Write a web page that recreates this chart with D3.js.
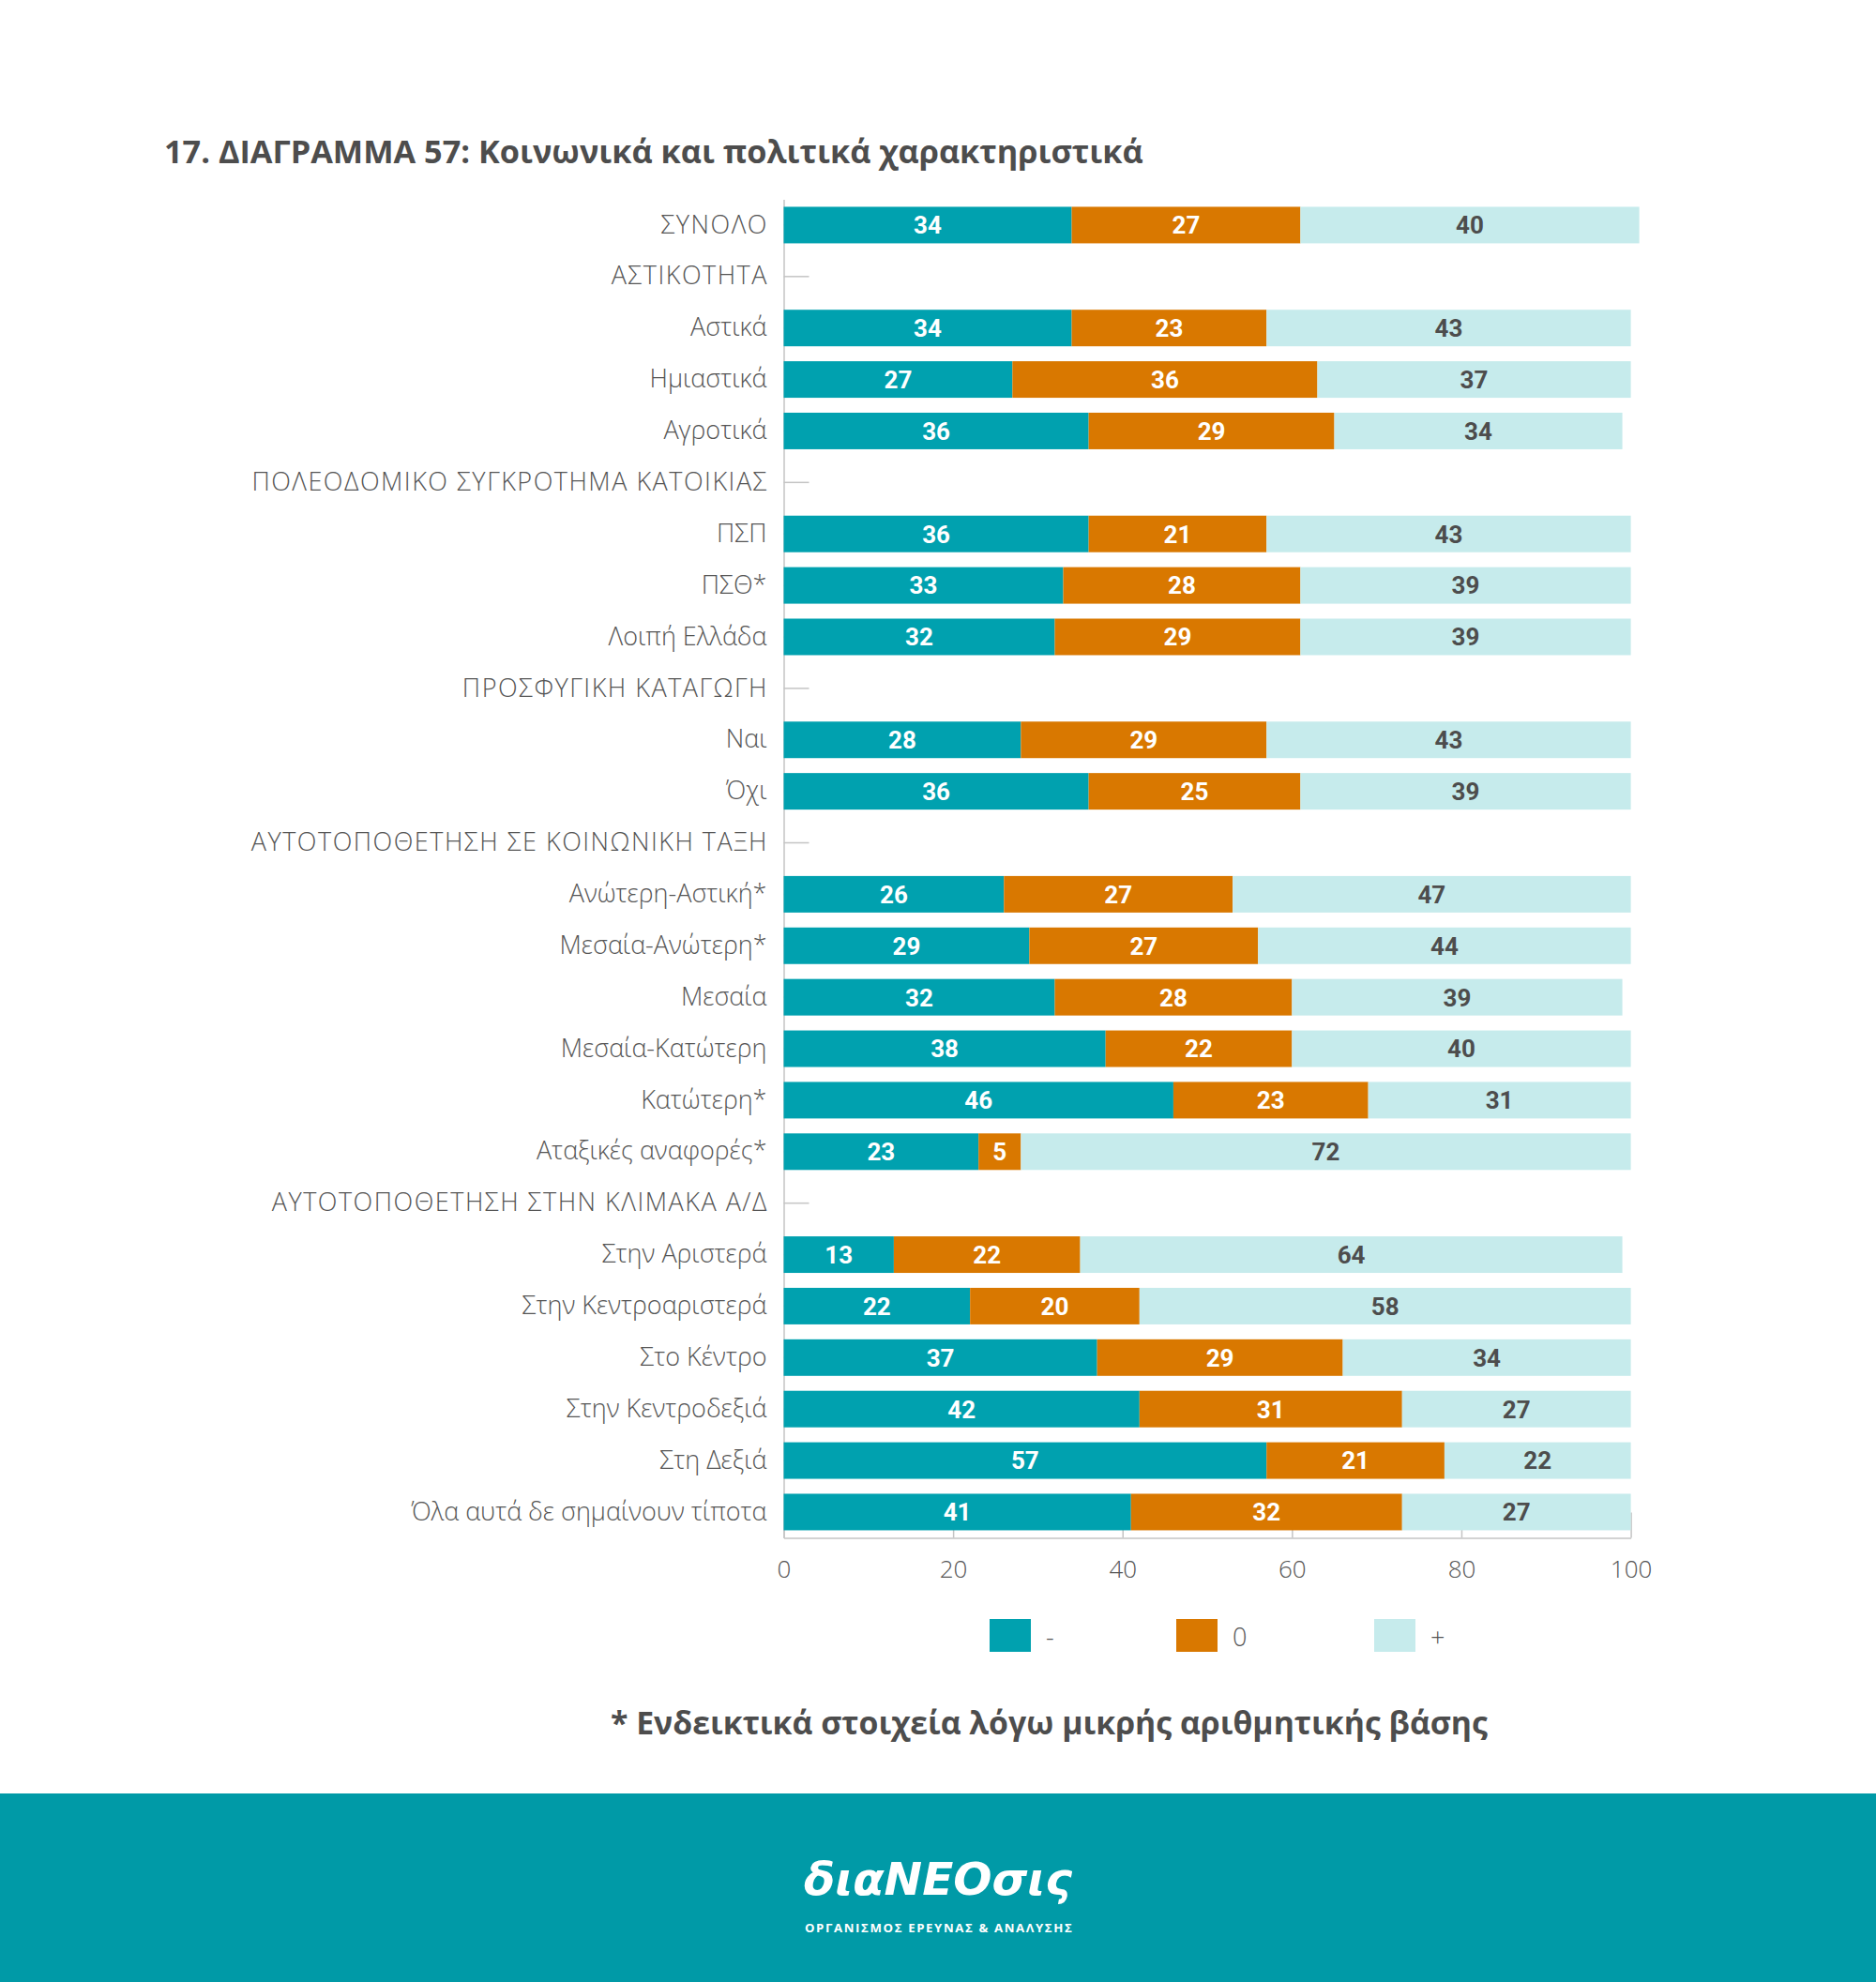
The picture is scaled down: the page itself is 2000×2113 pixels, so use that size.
<!DOCTYPE html>
<html>
<head>
<meta charset="utf-8">
<script src="https://cdn.jsdelivr.net/npm/d3@7"></script>
<style>
  html, body { margin: 0; padding: 0; background: #fff; }
  svg { display: block; }
</style>
</head>
<body>
<svg id="chart" width="2000" height="2113"></svg>
<script>
// ---------- DATA ----------
const categories = [
  "ΣΥΝΟΛΟ",
  "ΑΣΤΙΚΟΤΗΤΑ",
  "Αστικά",
  "Ημιαστικά",
  "Αγροτικά",
  "ΠΟΛΕΟΔΟΜΙΚΟ ΣΥΓΚΡΟΤΗΜΑ ΚΑΤΟΙΚΙΑΣ",
  "ΠΣΠ",
  "ΠΣΘ*",
  "Λοιπή Ελλάδα",
  "ΠΡΟΣΦΥΓΙΚΗ ΚΑΤΑΓΩΓΗ",
  "Ναι",
  "Όχι",
  "ΑΥΤΟΤΟΠΟΘΕΤΗΣΗ ΣΕ ΚΟΙΝΩΝΙΚΗ ΤΑΞΗ",
  "Ανώτερη-Αστική*",
  "Μεσαία-Ανώτερη*",
  "Μεσαία",
  "Μεσαία-Κατώτερη",
  "Κατώτερη*",
  "Αταξικές αναφορές*",
  "ΑΥΤΟΤΟΠΟΘΕΤΗΣΗ ΣΤΗΝ ΚΛΙΜΑΚΑ Α/Δ",
  "Στην Αριστερά",
  "Στην Κεντροαριστερά",
  "Στο Κέντρο",
  "Στην Κεντροδεξιά",
  "Στη Δεξιά",
  "Όλα αυτά δε σημαίνουν τίποτα"
];
// null = section header row (no bar)
const seriesMinus = [34, null, 34, 27, 36, null, 36, 33, 32, null, 28, 36, null, 26, 29, 32, 38, 46, 23, null, 13, 22, 37, 42, 57, 41];
const seriesZero  = [27, null, 23, 36, 29, null, 21, 28, 29, null, 29, 25, null, 27, 27, 28, 22, 23, 5,  null, 22, 20, 29, 31, 21, 32];
const seriesPlus  = [40, null, 43, 37, 34, null, 43, 39, 39, null, 43, 39, null, 47, 44, 39, 40, 31, 72, null, 64, 58, 34, 27, 22, 27];
const seriesKeys  = ["-", "0", "+"];
const xTicks = [0, 20, 40, 60, 80, 100];

const titleText = "17. ΔΙΑΓΡΑΜΜΑ 57: Κοινωνικά και πολιτικά χαρακτηριστικά";
const noteText = "* Ενδεικτικά στοιχεία λόγω μικρής αριθμητικής βάσης";
const logoText = "διαNEOσις";
const logoSub = "ΟΡΓΑΝΙΣΜΟΣ ΕΡΕΥΝΑΣ & ΑΝΑΛΥΣΗΣ";

// ---------- STYLE ----------
const colors = { "-": "#00A1AF", "0": "#D97800", "+": "#C6EBEC" };
const labelColors = { "-": "#ffffff", "0": "#ffffff", "+": "#4d4d4d" };
const textColor = "#555555";
const axisColor = "#c4c4c4";
const sansFont = "'Open Sans', 'Noto Sans', 'DejaVu Sans', sans-serif";
const numFont = "Roboto, 'Noto Sans', sans-serif";

// ---------- LAYOUT ----------
const svg = d3.select("#chart");
const plotLeft = 835.5, plotRight = 1738.6;
const plotTop = 212.5, plotBottom = 1639.4;

const x = d3.scaleLinear().domain([0, 100]).range([plotLeft, plotRight]);
const y = d3.scaleBand().domain(categories).range([plotTop, plotBottom]).paddingInner(0.29).paddingOuter(0.145);

function fitWidth(sel, w) {
  const l = sel.node().getComputedTextLength();
  const fs = parseFloat(sel.attr("font-size"));
  sel.attr("font-size", fs * w / l);
}

// Title
const title = svg.append("text")
  .attr("x", 175).attr("y", 174)
  .attr("font-family", sansFont).attr("font-weight", 700)
  .attr("font-size", 38).attr("fill", "#4d4d4d")
  .text(titleText);
fitWidth(title, 1044);

// table of rows
const rows = categories.map((c, i) => ({
  cat: c, "-": seriesMinus[i], "0": seriesZero[i], "+": seriesPlus[i]
}));
const barRows = rows.filter(r => r["-"] !== null);
const stacked = d3.stack().keys(seriesKeys)(barRows);

// Axes (drawn first so bars cover the inner ticks)
const yAxis = d3.axisLeft(y).tickSizeInner(-27).tickSizeOuter(0).tickPadding(18);
const gy = svg.append("g").attr("transform", `translate(${plotLeft},0)`).call(yAxis);
gy.select(".domain").attr("stroke", axisColor).attr("stroke-width", 1.5);
gy.selectAll(".tick line").attr("stroke", axisColor).attr("stroke-width", 1.5);
gy.selectAll(".tick text")
  .attr("font-family", sansFont).attr("font-weight", 300)
  .attr("font-size", 27).attr("fill", textColor)
  .each(function(d) {
    // wide geometric capitals in the original: spread all-caps labels a little
    if (d.length > 4 && d === d.toUpperCase()) {
      d3.select(this).attr("letter-spacing", 1.5).attr("dx", 1.5);
    }
  });

const xAxis = d3.axisBottom(x).tickValues(xTicks).tickSizeInner(-27).tickSizeOuter(0).tickPadding(24).tickFormat(d3.format("d"));
const gx = svg.append("g").attr("transform", `translate(0,${plotBottom})`).call(xAxis);
gx.select(".domain").attr("stroke", axisColor).attr("stroke-width", 1.5);
gx.selectAll(".tick line").attr("stroke", axisColor).attr("stroke-width", 1.5);
gx.selectAll(".tick text")
  .attr("font-family", sansFont).attr("font-weight", 300)
  .attr("font-size", 26).attr("fill", textColor);

// Bars
const layers = svg.append("g").selectAll("g").data(stacked).join("g")
  .attr("fill", d => colors[d.key]);
layers.selectAll("rect").data(d => d).join("rect")
  .attr("x", d => x(d[0]))
  .attr("y", d => y(d.data.cat))
  .attr("width", d => x(d[1]) - x(d[0]))
  .attr("height", y.bandwidth());

// Value labels
const lbl = svg.append("g");
stacked.forEach(layer => {
  lbl.selectAll(null).data(layer).join("text")
    .attr("x", d => (x(d[0]) + x(d[1])) / 2)
    .attr("y", d => y(d.data.cat) + y.bandwidth() / 2)
    .attr("dy", "0.36em")
    .attr("text-anchor", "middle")
    .attr("font-family", numFont).attr("font-weight", 700)
    .attr("font-size", 26)
    .attr("fill", labelColors[layer.key])
    .text(d => d.data[layer.key]);
});

// Legend
const legendX = [1055, 1254, 1465];
const legend = svg.append("g");
seriesKeys.forEach((k, i) => {
  legend.append("rect").attr("x", legendX[i]).attr("y", 1726)
    .attr("width", 44).attr("height", 35).attr("fill", colors[k]);
  legend.append("text").attr("x", legendX[i] + 60).attr("y", 1745).attr("dy", "0.36em")
    .attr("font-family", sansFont).attr("font-weight", 300)
    .attr("font-size", 27).attr("fill", textColor).text(k);
});

// Footnote
const note = svg.append("text")
  .attr("x", 651).attr("y", 1849)
  .attr("font-family", sansFont).attr("font-weight", 700)
  .attr("font-size", 38).attr("fill", "#4d4d4d")
  .text(noteText);
fitWidth(note, 935);

// Footer band
svg.append("rect").attr("x", 0).attr("y", 1912).attr("width", 2000).attr("height", 201).attr("fill", "#009AA7");
const logo = svg.append("text")
  .attr("x", 857).attr("y", 2020)
  .attr("font-family", "'DejaVu Sans', sans-serif").attr("font-weight", 700)
  .attr("font-style", "italic")
  .attr("font-size", 60).attr("fill", "#ffffff")
  .text(logoText);
fitWidth(logo, 286);
const sub = svg.append("text")
  .attr("x", 858).attr("y", 2060)
  .attr("font-family", sansFont).attr("font-weight", 700)
  .attr("font-size", 14).attr("letter-spacing", 1.6).attr("fill", "#ffffff")
  .text(logoSub);
fitWidth(sub, 284);
</script>
</body>
</html>
